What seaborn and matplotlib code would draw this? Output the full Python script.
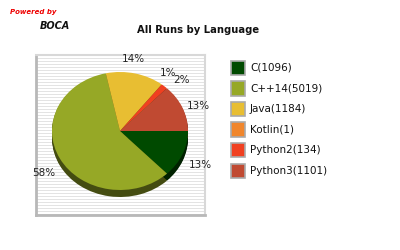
import numpy as np
import matplotlib
matplotlib.use("Agg")
import matplotlib.pyplot as plt
import seaborn as sns
from matplotlib.patches import Rectangle
from matplotlib.colors import to_rgb

languages = ["C", "C++14", "Java", "Kotlin", "Python2", "Python3"]
runs = [1096, 5019, 1184, 1, 134, 1101]
pct_labels = ["13%", "58%", "14%", "1%", "2%", "13%"]
colors = ["#004a00", "#96a826", "#e8be32", "#f0862c", "#f04020", "#c04a32"]

sns.set_theme(style="white")
plt.rcParams['font.family'] = ['DejaVu Sans']

W, H = 400, 250
fig = plt.figure(figsize=(4, 2.5), dpi=100)

def px_axes(x0, y0, x1, y1):
    return fig.add_axes([x0 / W, 1 - y1 / H, (x1 - x0) / W, (y1 - y0) / H])

# plot area
ax = px_axes(36, 55, 205, 215)
ax.set_facecolor("white")
rows = 160
stripe = np.array([[1.0 if (i % 3 == 0) else 0.0] for i in range(rows)])
ax.imshow(stripe, cmap=matplotlib.colors.ListedColormap(["#ffffff", "#e3e3e3"]),
          aspect="auto", extent=[0, 1, 0, 1], transform=ax.transAxes, zorder=0,
          interpolation="nearest")

rx, ry = 68.0, 59.0
cx, cy = 120.0, 131.0

shadow_colors = [tuple(c * 0.45 for c in to_rgb(col)) for col in colors]
for k in range(1, 8):
    off = k / ry
    ax.pie(runs, colors=shadow_colors, startangle=0, counterclock=False,
           center=(0, -off), radius=1.0, frame=True,
           wedgeprops=dict(linewidth=0))
wedges, _ = ax.pie(runs, colors=colors, startangle=0, counterclock=False,
                   center=(0, 0), radius=1.0, frame=True,
                   wedgeprops=dict(linewidth=0))
ax.set_xlim(-(cx - 36) / rx, (205 - cx) / rx)
ax.set_ylim(-(215 - cy) / ry, (cy - 55) / ry)
ax.set_aspect("auto")
ax.set_xticks([])
ax.set_yticks([])
for side in ["top", "right"]:
    ax.spines[side].set_color("#d8d8d8")
    ax.spines[side].set_linewidth(1.5)
for side in ["left", "bottom"]:
    ax.spines[side].set_color("#b8b8b8")
    ax.spines[side].set_linewidth(2)

label_pos = [(1.18, -0.58), (-1.12, -0.72), (0.2, 1.22), (0.70, 0.99), (0.90, 0.87), (1.15, 0.42)]
for lab, (x, y) in zip(pct_labels, label_pos):
    ax.text(x, y, lab, ha="center", va="center", fontsize=7.5, color="#222222", clip_on=False)

# legend
leg_x, leg_y0, step, sz = 231, 61, 20.5, 14
for i, (lang, n, col) in enumerate(zip(languages, runs, colors)):
    y = leg_y0 + i * step
    fig.patches.append(Rectangle((leg_x / W, 1 - (y + sz) / H), sz / W, sz / H,
                                 transform=fig.transFigure, facecolor=col,
                                 edgecolor="#aaaaaa", linewidth=1.2))
    fig.text((leg_x + sz + 5) / W, 1 - (y + sz / 2) / H, f"{lang}({n})",
             ha="left", va="center", fontsize=7.5, color="#111111")

fig.text(198 / W, 1 - 30 / H, "All Runs by Language", ha="center", va="center",
         fontsize=7.2, fontweight="bold", color="#111111")
fig.text(10 / W, 1 - 12 / H, "Powered by", ha="left", va="center",
         fontsize=5, fontstyle="italic", fontweight="bold", color="#ee0000")
fig.text(40 / W, 1 - 26 / H, "BOCA", ha="left", va="center",
         fontsize=7, fontstyle="italic", fontweight="bold", color="#111111")

fig.savefig("out.png", dpi=100)
